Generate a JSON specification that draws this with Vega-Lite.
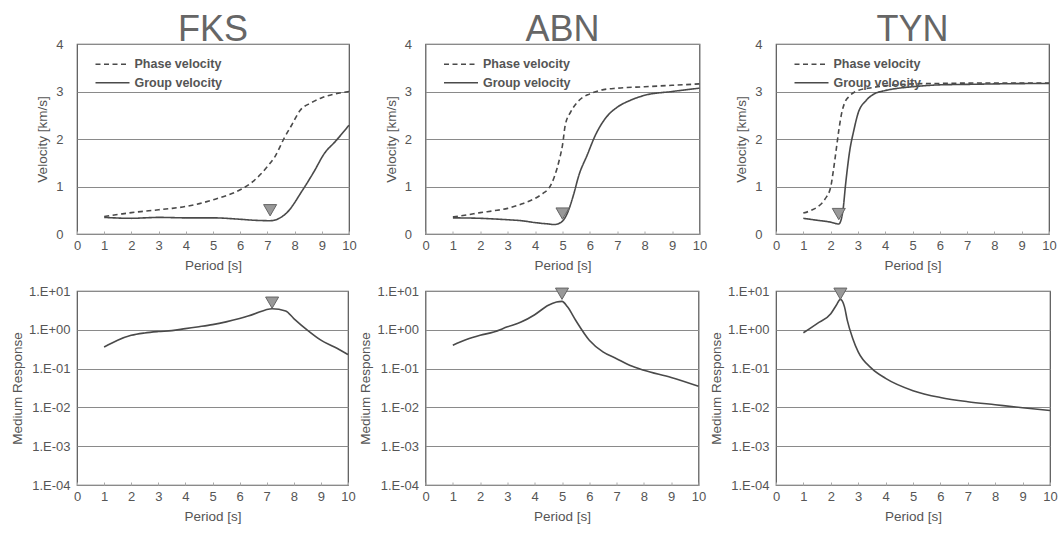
{
"$schema": "https://vega.github.io/schema/vega-lite/v6.json",
"background": "white",
"padding": {"left": 9, "top": 11, "right": 5, "bottom": 5},
"config": {
  "font": "Liberation Sans",
  "view": {"stroke": "#555", "strokeWidth": 1.2},
  "axis": {"labelFont": "Liberation Sans", "labelFontSize": 13, "labelColor": "#555", "titleFont": "Liberation Sans", "titleFontSize": 13.5, "titleFontWeight": "normal", "titleColor": "#555", "domain": false, "gridColor": "#8a8a8a", "gridWidth": 1, "labelOverlap": false, "labelFlush": false},
  "title": {"font": "Liberation Sans", "fontSize": 36, "fontWeight": "normal", "color": "#666", "offset": -11},
  "legend": {"labelFont": "Liberation Sans", "labelFontSize": 12.5, "labelFontWeight": "bold", "labelColor": "#555"}
},
"datasets": {
  "vel": [
    {"station":"FKS","type":"Phase velocity","period":1,"velocity":0.37},
    {"station":"FKS","type":"Phase velocity","period":1.5,"velocity":0.41},
    {"station":"FKS","type":"Phase velocity","period":2,"velocity":0.45},
    {"station":"FKS","type":"Phase velocity","period":2.5,"velocity":0.48},
    {"station":"FKS","type":"Phase velocity","period":3,"velocity":0.51},
    {"station":"FKS","type":"Phase velocity","period":3.5,"velocity":0.54},
    {"station":"FKS","type":"Phase velocity","period":4,"velocity":0.58},
    {"station":"FKS","type":"Phase velocity","period":4.5,"velocity":0.64},
    {"station":"FKS","type":"Phase velocity","period":5,"velocity":0.72},
    {"station":"FKS","type":"Phase velocity","period":5.5,"velocity":0.81},
    {"station":"FKS","type":"Phase velocity","period":6,"velocity":0.93},
    {"station":"FKS","type":"Phase velocity","period":6.5,"velocity":1.12},
    {"station":"FKS","type":"Phase velocity","period":7,"velocity":1.42},
    {"station":"FKS","type":"Phase velocity","period":7.3,"velocity":1.65},
    {"station":"FKS","type":"Phase velocity","period":7.6,"velocity":2.0},
    {"station":"FKS","type":"Phase velocity","period":7.9,"velocity":2.3},
    {"station":"FKS","type":"Phase velocity","period":8.2,"velocity":2.6},
    {"station":"FKS","type":"Phase velocity","period":8.6,"velocity":2.76},
    {"station":"FKS","type":"Phase velocity","period":9,"velocity":2.87},
    {"station":"FKS","type":"Phase velocity","period":9.5,"velocity":2.95},
    {"station":"FKS","type":"Phase velocity","period":10,"velocity":3.0},
    {"station":"FKS","type":"Group velocity","period":1,"velocity":0.35},
    {"station":"FKS","type":"Group velocity","period":2,"velocity":0.33},
    {"station":"FKS","type":"Group velocity","period":2.5,"velocity":0.34},
    {"station":"FKS","type":"Group velocity","period":3,"velocity":0.35},
    {"station":"FKS","type":"Group velocity","period":4,"velocity":0.34},
    {"station":"FKS","type":"Group velocity","period":5,"velocity":0.34},
    {"station":"FKS","type":"Group velocity","period":6,"velocity":0.31},
    {"station":"FKS","type":"Group velocity","period":6.5,"velocity":0.29},
    {"station":"FKS","type":"Group velocity","period":7.1,"velocity":0.28},
    {"station":"FKS","type":"Group velocity","period":7.7,"velocity":0.44},
    {"station":"FKS","type":"Group velocity","period":8.3,"velocity":0.93},
    {"station":"FKS","type":"Group velocity","period":8.7,"velocity":1.3},
    {"station":"FKS","type":"Group velocity","period":9.1,"velocity":1.7},
    {"station":"FKS","type":"Group velocity","period":9.5,"velocity":1.95},
    {"station":"FKS","type":"Group velocity","period":10,"velocity":2.29},
    {"station":"ABN","type":"Phase velocity","period":1,"velocity":0.36},
    {"station":"ABN","type":"Phase velocity","period":1.5,"velocity":0.4},
    {"station":"ABN","type":"Phase velocity","period":2,"velocity":0.45},
    {"station":"ABN","type":"Phase velocity","period":2.5,"velocity":0.49},
    {"station":"ABN","type":"Phase velocity","period":3,"velocity":0.54},
    {"station":"ABN","type":"Phase velocity","period":3.5,"velocity":0.63},
    {"station":"ABN","type":"Phase velocity","period":4,"velocity":0.75},
    {"station":"ABN","type":"Phase velocity","period":4.3,"velocity":0.86},
    {"station":"ABN","type":"Phase velocity","period":4.5,"velocity":0.96},
    {"station":"ABN","type":"Phase velocity","period":4.7,"velocity":1.2},
    {"station":"ABN","type":"Phase velocity","period":4.8,"velocity":1.38},
    {"station":"ABN","type":"Phase velocity","period":4.9,"velocity":1.6},
    {"station":"ABN","type":"Phase velocity","period":5,"velocity":1.87},
    {"station":"ABN","type":"Phase velocity","period":5.1,"velocity":2.29},
    {"station":"ABN","type":"Phase velocity","period":5.3,"velocity":2.57},
    {"station":"ABN","type":"Phase velocity","period":5.6,"velocity":2.81},
    {"station":"ABN","type":"Phase velocity","period":6,"velocity":2.95},
    {"station":"ABN","type":"Phase velocity","period":6.5,"velocity":3.04},
    {"station":"ABN","type":"Phase velocity","period":7,"velocity":3.07},
    {"station":"ABN","type":"Phase velocity","period":8,"velocity":3.1},
    {"station":"ABN","type":"Phase velocity","period":9,"velocity":3.13},
    {"station":"ABN","type":"Phase velocity","period":10,"velocity":3.16},
    {"station":"ABN","type":"Group velocity","period":1,"velocity":0.34},
    {"station":"ABN","type":"Group velocity","period":2,"velocity":0.33},
    {"station":"ABN","type":"Group velocity","period":3,"velocity":0.3},
    {"station":"ABN","type":"Group velocity","period":3.5,"velocity":0.28},
    {"station":"ABN","type":"Group velocity","period":4,"velocity":0.24},
    {"station":"ABN","type":"Group velocity","period":4.5,"velocity":0.21},
    {"station":"ABN","type":"Group velocity","period":4.7,"velocity":0.2},
    {"station":"ABN","type":"Group velocity","period":4.9,"velocity":0.23},
    {"station":"ABN","type":"Group velocity","period":5,"velocity":0.27},
    {"station":"ABN","type":"Group velocity","period":5.2,"velocity":0.47},
    {"station":"ABN","type":"Group velocity","period":5.4,"velocity":0.82},
    {"station":"ABN","type":"Group velocity","period":5.6,"velocity":1.24},
    {"station":"ABN","type":"Group velocity","period":5.9,"velocity":1.66},
    {"station":"ABN","type":"Group velocity","period":6.2,"velocity":2.08},
    {"station":"ABN","type":"Group velocity","period":6.6,"velocity":2.46},
    {"station":"ABN","type":"Group velocity","period":7,"velocity":2.67},
    {"station":"ABN","type":"Group velocity","period":7.5,"velocity":2.82},
    {"station":"ABN","type":"Group velocity","period":8,"velocity":2.92},
    {"station":"ABN","type":"Group velocity","period":9,"velocity":3.0},
    {"station":"ABN","type":"Group velocity","period":10,"velocity":3.07},
    {"station":"TYN","type":"Phase velocity","period":1,"velocity":0.44},
    {"station":"TYN","type":"Phase velocity","period":1.3,"velocity":0.5},
    {"station":"TYN","type":"Phase velocity","period":1.5,"velocity":0.56},
    {"station":"TYN","type":"Phase velocity","period":1.8,"velocity":0.74},
    {"station":"TYN","type":"Phase velocity","period":2,"velocity":0.98},
    {"station":"TYN","type":"Phase velocity","period":2.1,"velocity":1.33},
    {"station":"TYN","type":"Phase velocity","period":2.2,"velocity":1.75},
    {"station":"TYN","type":"Phase velocity","period":2.3,"velocity":2.18},
    {"station":"TYN","type":"Phase velocity","period":2.4,"velocity":2.53},
    {"station":"TYN","type":"Phase velocity","period":2.5,"velocity":2.74},
    {"station":"TYN","type":"Phase velocity","period":2.7,"velocity":2.91},
    {"station":"TYN","type":"Phase velocity","period":3,"velocity":3.02},
    {"station":"TYN","type":"Phase velocity","period":3.5,"velocity":3.08},
    {"station":"TYN","type":"Phase velocity","period":4,"velocity":3.12},
    {"station":"TYN","type":"Phase velocity","period":5,"velocity":3.16},
    {"station":"TYN","type":"Phase velocity","period":6,"velocity":3.17},
    {"station":"TYN","type":"Phase velocity","period":8,"velocity":3.18},
    {"station":"TYN","type":"Phase velocity","period":10,"velocity":3.18},
    {"station":"TYN","type":"Group velocity","period":1,"velocity":0.33},
    {"station":"TYN","type":"Group velocity","period":1.5,"velocity":0.29},
    {"station":"TYN","type":"Group velocity","period":2,"velocity":0.25},
    {"station":"TYN","type":"Group velocity","period":2.3,"velocity":0.21},
    {"station":"TYN","type":"Group velocity","period":2.45,"velocity":0.49},
    {"station":"TYN","type":"Group velocity","period":2.55,"velocity":1.05},
    {"station":"TYN","type":"Group velocity","period":2.7,"velocity":1.75},
    {"station":"TYN","type":"Group velocity","period":2.85,"velocity":2.18},
    {"station":"TYN","type":"Group velocity","period":3,"velocity":2.53},
    {"station":"TYN","type":"Group velocity","period":3.3,"velocity":2.81},
    {"station":"TYN","type":"Group velocity","period":3.6,"velocity":2.95},
    {"station":"TYN","type":"Group velocity","period":4,"velocity":3.02},
    {"station":"TYN","type":"Group velocity","period":4.5,"velocity":3.07},
    {"station":"TYN","type":"Group velocity","period":5,"velocity":3.1},
    {"station":"TYN","type":"Group velocity","period":6,"velocity":3.14},
    {"station":"TYN","type":"Group velocity","period":7,"velocity":3.15},
    {"station":"TYN","type":"Group velocity","period":8,"velocity":3.16},
    {"station":"TYN","type":"Group velocity","period":10,"velocity":3.17}
  ],
  "resp": [
    {"station":"FKS","period":1,"response":0.36},
    {"station":"FKS","period":1.5,"response":0.54},
    {"station":"FKS","period":2,"response":0.72},
    {"station":"FKS","period":2.5,"response":0.83},
    {"station":"FKS","period":3,"response":0.9},
    {"station":"FKS","period":3.5,"response":0.95},
    {"station":"FKS","period":4,"response":1.07},
    {"station":"FKS","period":4.5,"response":1.2},
    {"station":"FKS","period":5,"response":1.36},
    {"station":"FKS","period":5.5,"response":1.6},
    {"station":"FKS","period":6,"response":1.95},
    {"station":"FKS","period":6.5,"response":2.5},
    {"station":"FKS","period":7.2,"response":3.5},
    {"station":"FKS","period":7.7,"response":3.05},
    {"station":"FKS","period":8,"response":1.95},
    {"station":"FKS","period":8.5,"response":0.98},
    {"station":"FKS","period":9,"response":0.54},
    {"station":"FKS","period":9.5,"response":0.36},
    {"station":"FKS","period":10,"response":0.23},
    {"station":"ABN","period":1,"response":0.4},
    {"station":"ABN","period":1.5,"response":0.56},
    {"station":"ABN","period":2,"response":0.72},
    {"station":"ABN","period":2.5,"response":0.88},
    {"station":"ABN","period":3,"response":1.19},
    {"station":"ABN","period":3.5,"response":1.58},
    {"station":"ABN","period":4,"response":2.45},
    {"station":"ABN","period":4.5,"response":4.3},
    {"station":"ABN","period":4.8,"response":5.2},
    {"station":"ABN","period":5,"response":5.4},
    {"station":"ABN","period":5.2,"response":3.9},
    {"station":"ABN","period":5.5,"response":1.76},
    {"station":"ABN","period":6,"response":0.54},
    {"station":"ABN","period":6.5,"response":0.27},
    {"station":"ABN","period":7,"response":0.18},
    {"station":"ABN","period":7.5,"response":0.12},
    {"station":"ABN","period":8,"response":0.091},
    {"station":"ABN","period":9,"response":0.059},
    {"station":"ABN","period":10,"response":0.035},
    {"station":"TYN","period":1,"response":0.84},
    {"station":"TYN","period":1.5,"response":1.45},
    {"station":"TYN","period":2,"response":2.6},
    {"station":"TYN","period":2.2,"response":4.3},
    {"station":"TYN","period":2.35,"response":6.1},
    {"station":"TYN","period":2.5,"response":3.9},
    {"station":"TYN","period":2.6,"response":1.78},
    {"station":"TYN","period":2.8,"response":0.6},
    {"station":"TYN","period":3,"response":0.27},
    {"station":"TYN","period":3.5,"response":0.1},
    {"station":"TYN","period":4,"response":0.056},
    {"station":"TYN","period":5,"response":0.027},
    {"station":"TYN","period":6,"response":0.018},
    {"station":"TYN","period":7,"response":0.014},
    {"station":"TYN","period":8,"response":0.0117},
    {"station":"TYN","period":9,"response":0.0098},
    {"station":"TYN","period":10,"response":0.0083}
  ],
  "velmarks": [
    {"station":"FKS","period":7.1,"velocity":0.5},
    {"station":"ABN","period":5.0,"velocity":0.43},
    {"station":"TYN","period":2.3,"velocity":0.42}
  ],
  "respmarks": [
    {"station":"FKS","period":7.2,"response":5.0},
    {"station":"ABN","period":5.0,"response":8.5},
    {"station":"TYN","period":2.35,"response":8.5}
  ]
},
"vconcat": [
 {"hconcat": [
  {"width": 272, "height": 190, "title": "FKS",
   "encoding": {
     "x": {"field": "period", "type": "quantitative", "scale": {"domain": [0, 10]}, "axis": {"title": "Period [s]", "values": [0,1,2,3,4,5,6,7,8,9,10], "labelOverlap": false, "labelFlush": false, "grid": false, "tickSize": -3, "tickColor": "#aaa", "labelPadding": 8, "titlePadding": 6}},
     "y": {"field": "velocity", "type": "quantitative", "scale": {"domain": [0, 4]}, "axis": {"title": "Velocity [km/s]", "values": [0,1,2,3,4], "ticks": false, "labelPadding": 14, "titlePadding": 6}}
   },
   "layer": [
    {"data": {"name": "vel"}, "transform": [{"filter": "datum.station == 'FKS'"}],
     "mark": {"type": "line", "color": "#4a4a4a", "strokeWidth": 1.6, "interpolate": "monotone"},
     "encoding": {
      "strokeDash": {"field": "type", "type": "nominal", "scale": {"domain": ["Phase velocity", "Group velocity"], "range": [[5, 3.5], [1, 0]]}, "legend": {"title": null, "orient": "none", "legendX": 40, "legendY": 14, "symbolType": "M-5.55,0H1.25", "symbolSize": 100, "symbolStrokeColor": "#4a4a4a", "symbolFillColor": "transparent", "symbolStrokeWidth": 1.6, "rowPadding": 5.5, "labelOffset": 5}}
     }},
    {"data": {"name": "velmarks"}, "transform": [{"filter": "datum.station == 'FKS'"}],
     "mark": {"type": "point", "shape": "triangle-down", "filled": true, "fill": "#999", "stroke": "#666", "strokeWidth": 1, "size": 170, "opacity": 1}}
   ]},
  {"width": 274, "height": 190, "title": "ABN",
   "encoding": {
     "x": {"field": "period", "type": "quantitative", "scale": {"domain": [0, 10]}, "axis": {"title": "Period [s]", "values": [0,1,2,3,4,5,6,7,8,9,10], "labelOverlap": false, "labelFlush": false, "grid": false, "tickSize": -3, "tickColor": "#aaa", "labelPadding": 8, "titlePadding": 6}},
     "y": {"field": "velocity", "type": "quantitative", "scale": {"domain": [0, 4]}, "axis": {"title": "Velocity [km/s]", "values": [0,1,2,3,4], "ticks": false, "labelPadding": 14, "titlePadding": 6}}
   },
   "layer": [
    {"data": {"name": "vel"}, "transform": [{"filter": "datum.station == 'ABN'"}],
     "mark": {"type": "line", "color": "#4a4a4a", "strokeWidth": 1.6, "interpolate": "monotone"},
     "encoding": {
      "strokeDash": {"field": "type", "type": "nominal", "scale": {"domain": ["Phase velocity", "Group velocity"], "range": [[5, 3.5], [1, 0]]}, "legend": {"title": null, "orient": "none", "legendX": 40, "legendY": 14, "symbolType": "M-5.55,0H1.25", "symbolSize": 100, "symbolStrokeColor": "#4a4a4a", "symbolFillColor": "transparent", "symbolStrokeWidth": 1.6, "rowPadding": 5.5, "labelOffset": 5}}
     }},
    {"data": {"name": "velmarks"}, "transform": [{"filter": "datum.station == 'ABN'"}],
     "mark": {"type": "point", "shape": "triangle-down", "filled": true, "fill": "#999", "stroke": "#666", "strokeWidth": 1, "size": 170, "opacity": 1}}
   ]},
  {"width": 273, "height": 190, "title": "TYN",
   "encoding": {
     "x": {"field": "period", "type": "quantitative", "scale": {"domain": [0, 10]}, "axis": {"title": "Period [s]", "values": [0,1,2,3,4,5,6,7,8,9,10], "labelOverlap": false, "labelFlush": false, "grid": false, "tickSize": -3, "tickColor": "#aaa", "labelPadding": 8, "titlePadding": 6}},
     "y": {"field": "velocity", "type": "quantitative", "scale": {"domain": [0, 4]}, "axis": {"title": "Velocity [km/s]", "values": [0,1,2,3,4], "ticks": false, "labelPadding": 14, "titlePadding": 6}}
   },
   "layer": [
    {"data": {"name": "vel"}, "transform": [{"filter": "datum.station == 'TYN'"}],
     "mark": {"type": "line", "color": "#4a4a4a", "strokeWidth": 1.6, "interpolate": "monotone"},
     "encoding": {
      "strokeDash": {"field": "type", "type": "nominal", "scale": {"domain": ["Phase velocity", "Group velocity"], "range": [[5, 3.5], [1, 0]]}, "legend": {"title": null, "orient": "none", "legendX": 40, "legendY": 14, "symbolType": "M-5.55,0H1.25", "symbolSize": 100, "symbolStrokeColor": "#4a4a4a", "symbolFillColor": "transparent", "symbolStrokeWidth": 1.6, "rowPadding": 5.5, "labelOffset": 5}}
     }},
    {"data": {"name": "velmarks"}, "transform": [{"filter": "datum.station == 'TYN'"}],
     "mark": {"type": "point", "shape": "triangle-down", "filled": true, "fill": "#999", "stroke": "#666", "strokeWidth": 1, "size": 170, "opacity": 1}}
   ]}
 ], "spacing": 26.5, "resolve": {"scale": {"strokeDash": "independent"}, "legend": {"strokeDash": "independent"}}},
 {"hconcat": [
  {"width": 271, "height": 194,
   "encoding": {
     "x": {"field": "period", "type": "quantitative", "scale": {"domain": [0, 10]}, "axis": {"title": "Period [s]", "values": [0,1,2,3,4,5,6,7,8,9,10], "labelOverlap": false, "labelFlush": false, "grid": false, "tickSize": -3, "tickColor": "#aaa", "labelPadding": 8, "titlePadding": 6}},
     "y": {"field": "response", "type": "quantitative", "scale": {"type": "log", "domain": [0.0001, 10]}, "axis": {"title": "Medium Response", "values": [0.0001, 0.001, 0.01, 0.1, 1, 10], "labelExpr": "'1.E' + (datum.value >= 1 ? '+0' : '-0') + abs(round(log(datum.value) / LN10))", "ticks": false, "labelPadding": 7, "titlePadding": 4}}
   },
   "layer": [
    {"data": {"name": "resp"}, "transform": [{"filter": "datum.station == 'FKS'"}],
     "mark": {"type": "line", "color": "#4a4a4a", "strokeWidth": 1.6, "interpolate": "monotone"}},
    {"data": {"name": "respmarks"}, "transform": [{"filter": "datum.station == 'FKS'"}],
     "mark": {"type": "point", "shape": "triangle-down", "filled": true, "fill": "#999", "stroke": "#666", "strokeWidth": 1, "size": 170, "opacity": 1}}
   ]},
  {"width": 273, "height": 194,
   "encoding": {
     "x": {"field": "period", "type": "quantitative", "scale": {"domain": [0, 10]}, "axis": {"title": "Period [s]", "values": [0,1,2,3,4,5,6,7,8,9,10], "labelOverlap": false, "labelFlush": false, "grid": false, "tickSize": -3, "tickColor": "#aaa", "labelPadding": 8, "titlePadding": 6}},
     "y": {"field": "response", "type": "quantitative", "scale": {"type": "log", "domain": [0.0001, 10]}, "axis": {"title": "Medium Response", "values": [0.0001, 0.001, 0.01, 0.1, 1, 10], "labelExpr": "'1.E' + (datum.value >= 1 ? '+0' : '-0') + abs(round(log(datum.value) / LN10))", "ticks": false, "labelPadding": 7, "titlePadding": 4}}
   },
   "layer": [
    {"data": {"name": "resp"}, "transform": [{"filter": "datum.station == 'ABN'"}],
     "mark": {"type": "line", "color": "#4a4a4a", "strokeWidth": 1.6, "interpolate": "monotone"}},
    {"data": {"name": "respmarks"}, "transform": [{"filter": "datum.station == 'ABN'"}],
     "mark": {"type": "point", "shape": "triangle-down", "filled": true, "fill": "#999", "stroke": "#666", "strokeWidth": 1, "size": 170, "opacity": 1}}
   ]},
  {"width": 274, "height": 194,
   "encoding": {
     "x": {"field": "period", "type": "quantitative", "scale": {"domain": [0, 10]}, "axis": {"title": "Period [s]", "values": [0,1,2,3,4,5,6,7,8,9,10], "labelOverlap": false, "labelFlush": false, "grid": false, "tickSize": -3, "tickColor": "#aaa", "labelPadding": 8, "titlePadding": 6}},
     "y": {"field": "response", "type": "quantitative", "scale": {"type": "log", "domain": [0.0001, 10]}, "axis": {"title": "Medium Response", "values": [0.0001, 0.001, 0.01, 0.1, 1, 10], "labelExpr": "'1.E' + (datum.value >= 1 ? '+0' : '-0') + abs(round(log(datum.value) / LN10))", "ticks": false, "labelPadding": 7, "titlePadding": 4}}
   },
   "layer": [
    {"data": {"name": "resp"}, "transform": [{"filter": "datum.station == 'TYN'"}],
     "mark": {"type": "line", "color": "#4a4a4a", "strokeWidth": 1.6, "interpolate": "monotone"}},
    {"data": {"name": "respmarks"}, "transform": [{"filter": "datum.station == 'TYN'"}],
     "mark": {"type": "point", "shape": "triangle-down", "filled": true, "fill": "#999", "stroke": "#666", "strokeWidth": 1, "size": 170, "opacity": 1}}
   ]}
 ], "spacing": 1.5}
], "spacing": 11
}
